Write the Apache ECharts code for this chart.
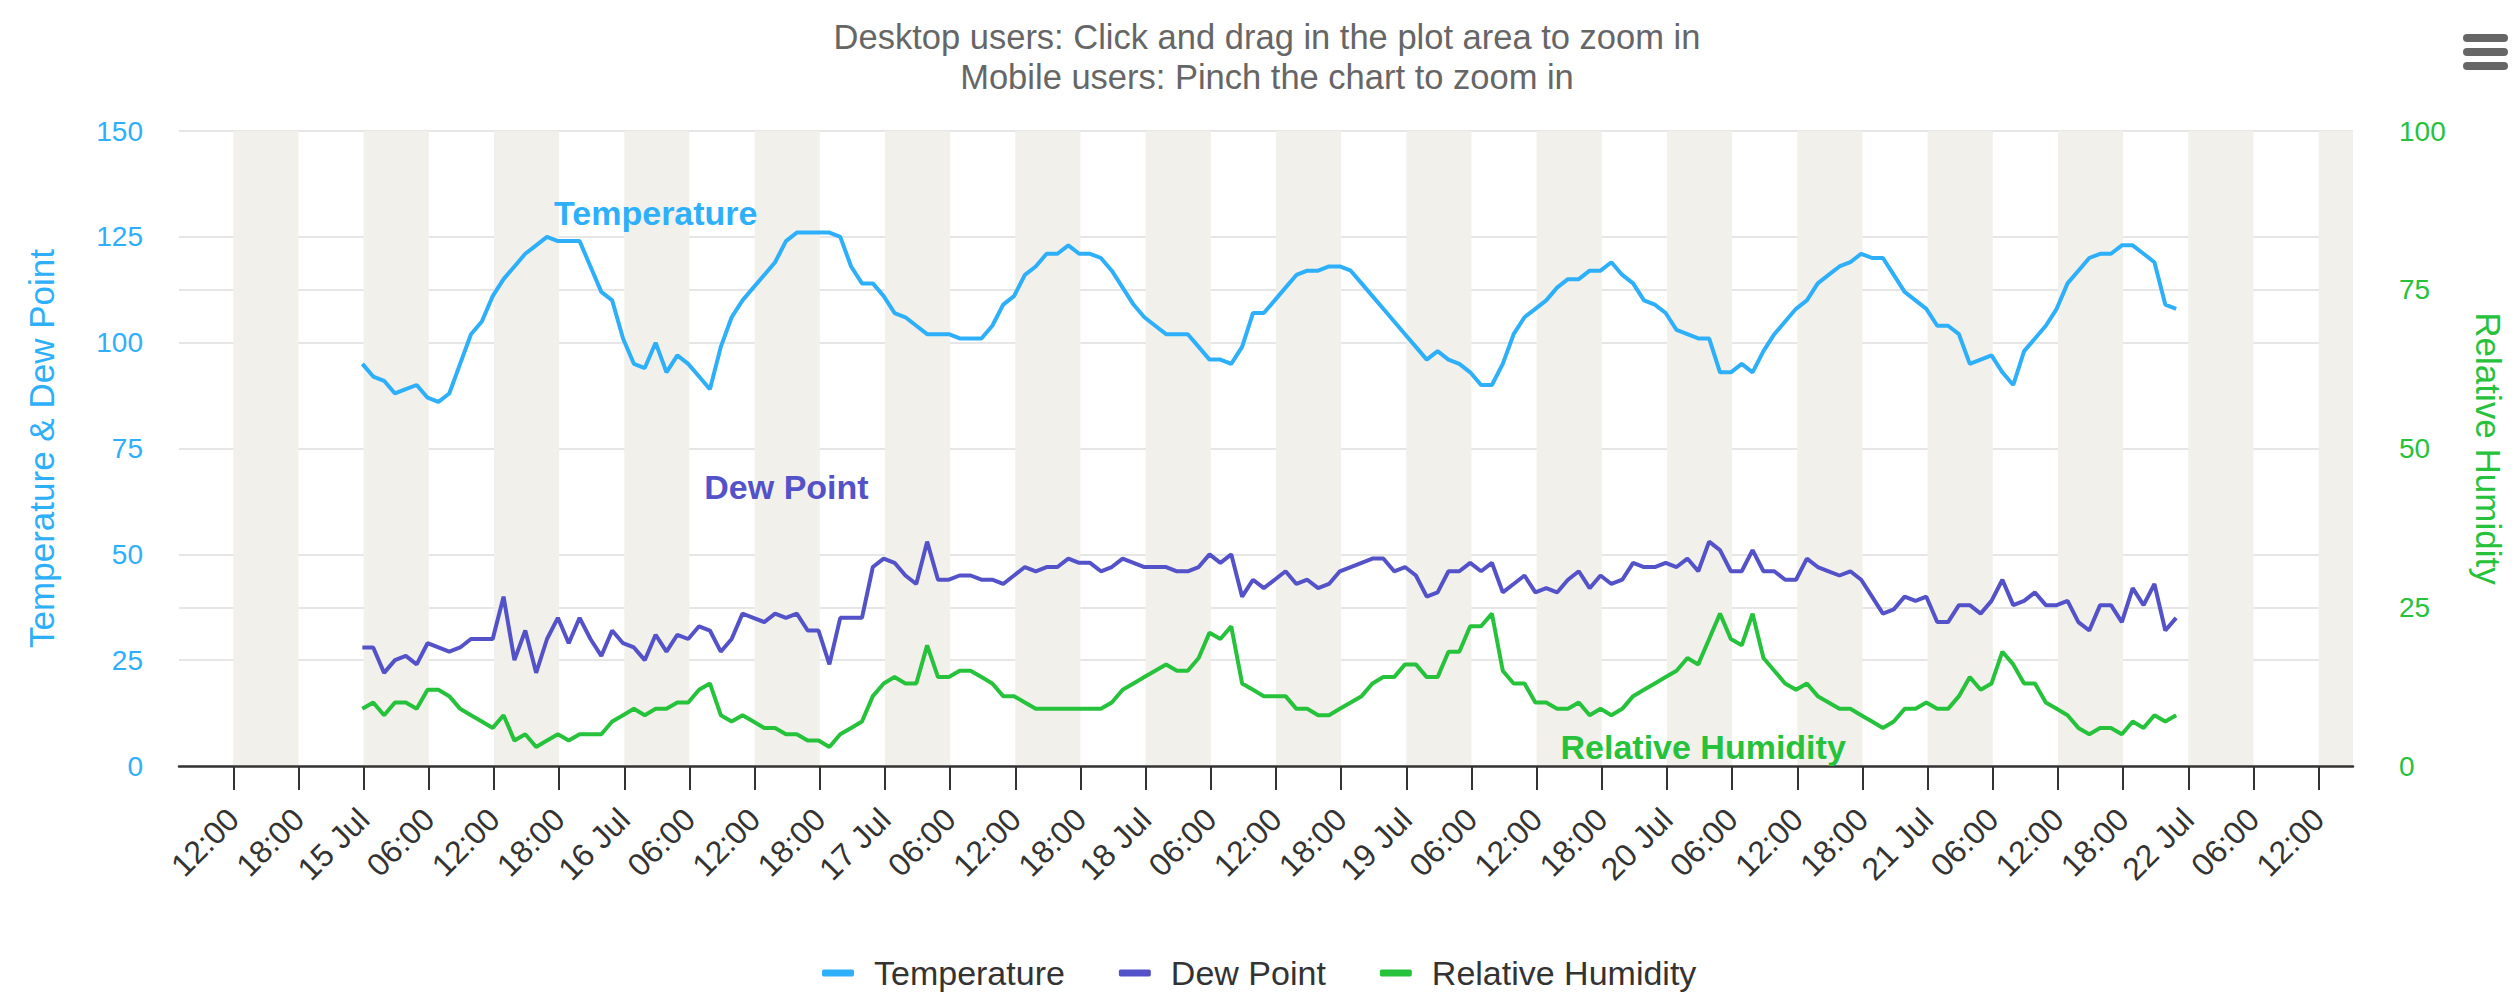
<!DOCTYPE html>
<html>
<head>
<meta charset="utf-8">
<title>Temperature, Dew Point and Relative Humidity</title>
<script src="https://cdn.jsdelivr.net/npm/echarts@6/dist/echarts.min.js"></script>
<style>
  html, body { margin: 0; padding: 0; background: #fff; }
  #chart { width: 2514px; height: 995px; }
</style>
</head>
<body>
<div id="chart"></div>
<script>
'use strict';

var HOUR = 3600 * 1000;

// hourly observations, the first one at 14 Jul 23:53
var firstObs = Date.UTC(2024, 6, 14, 23, 53);

var temperature = [
  95, 92, 91, 88, 89, 90, 87, 86, 88, 95, 102, 105, 111, 115, 118, 121, 123, 125, 124, 124, 124, 118, 112, 110,
  101, 95, 94, 100, 93, 97, 95, 92, 89, 99, 106, 110, 113, 116, 119, 124, 126, 126, 126, 126, 125, 118, 114, 114,
  111, 107, 106, 104, 102, 102, 102, 101, 101, 101, 104, 109, 111, 116, 118, 121, 121, 123, 121, 121, 120, 117, 113, 109,
  106, 104, 102, 102, 102, 99, 96, 96, 95, 99, 107, 107, 110, 113, 116, 117, 117, 118, 118, 117, 114, 111, 108, 105,
  102, 99, 96, 98, 96, 95, 93, 90, 90, 95, 102, 106, 108, 110, 113, 115, 115, 117, 117, 119, 116, 114, 110, 109,
  107, 103, 102, 101, 101, 93, 93, 95, 93, 98, 102, 105, 108, 110, 114, 116, 118, 119, 121, 120, 120, 116, 112, 110,
  108, 104, 104, 102, 95, 96, 97, 93, 90, 98, 101, 104, 108, 114, 117, 120, 121, 121, 123, 123, 121, 119, 109, 108
];

var dewPoint = [
  28, 28, 22, 25, 26, 24, 29, 28, 27, 28, 30, 30, 30, 40, 25, 32, 22, 30, 35, 29, 35, 30, 26, 32,
  29, 28, 25, 31, 27, 31, 30, 33, 32, 27, 30, 36, 35, 34, 36, 35, 36, 32, 32, 24, 35, 35, 35, 47,
  49, 48, 45, 43, 53, 44, 44, 45, 45, 44, 44, 43, 45, 47, 46, 47, 47, 49, 48, 48, 46, 47, 49, 48,
  47, 47, 47, 46, 46, 47, 50, 48, 50, 40, 44, 42, 44, 46, 43, 44, 42, 43, 46, 47, 48, 49, 49, 46,
  47, 45, 40, 41, 46, 46, 48, 46, 48, 41, 43, 45, 41, 42, 41, 44, 46, 42, 45, 43, 44, 48, 47, 47,
  48, 47, 49, 46, 53, 51, 46, 46, 51, 46, 46, 44, 44, 49, 47, 46, 45, 46, 44, 40, 36, 37, 40, 39,
  40, 34, 34, 38, 38, 36, 39, 44, 38, 39, 41, 38, 38, 39, 34, 32, 38, 38, 34, 42, 38, 43, 32, 35
];

var humidity = [
  9, 10, 8, 10, 10, 9, 12, 12, 11, 9, 8, 7, 6, 8, 4, 5, 3, 4, 5, 4, 5, 5, 5, 7,
  8, 9, 8, 9, 9, 10, 10, 12, 13, 8, 7, 8, 7, 6, 6, 5, 5, 4, 4, 3, 5, 6, 7, 11,
  13, 14, 13, 13, 19, 14, 14, 15, 15, 14, 13, 11, 11, 10, 9, 9, 9, 9, 9, 9, 9, 10,
  12, 13, 14, 15, 16, 15, 15, 17, 21, 20, 22, 13, 12, 11, 11, 11, 9, 9, 8, 8, 9, 10,
  11, 13, 14, 14, 16, 16, 14, 14, 18, 18, 22, 22, 24, 15, 13, 13, 10, 10, 9, 9, 10, 8,
  9, 8, 9, 11, 12, 13, 14, 15, 17, 16, 20, 24, 20, 19, 24, 17, 15, 13, 12, 13, 11, 10,
  9, 9, 8, 7, 6, 7, 9, 9, 10, 9, 9, 11, 14, 12, 13, 18, 16, 13, 13, 10, 9, 8, 6, 5, 6, 6, 5, 7, 6, 8, 7, 8
];

// x axis: one tick every 6 hours from 14 Jul 12:00
var firstTick = Date.UTC(2024, 6, 14, 12, 0);
var tickLabels = [
  '12:00', '18:00', '15 Jul', '06:00', '12:00', '18:00', '16 Jul', '06:00', '12:00', '18:00',
  '17 Jul', '06:00', '12:00', '18:00', '18 Jul', '06:00', '12:00', '18:00', '19 Jul', '06:00',
  '12:00', '18:00', '20 Jul', '06:00', '12:00', '18:00', '21 Jul', '06:00', '12:00', '18:00',
  '22 Jul', '06:00', '12:00'
];
var xMin = Date.UTC(2024, 6, 14, 7, 0);
var xMax = Date.UTC(2024, 6, 22, 15, 10);

var blue = '#2eaffa';
var purple = '#5352c8';
var green = '#27c23c';
var fontFamily = '"Liberation Sans", Arial, Helvetica, sans-serif';

var tickTimes = tickLabels.map(function (l, i) { return firstTick + i * 6 * HOUR; });

function toPoints(values) {
  return values.map(function (v, i) { return [firstObs + i * HOUR, v]; });
}

// shaded every other 6 hour slot
var bands = [];
for (var i = 0; i < tickTimes.length; i += 2) {
  bands.push([{ xAxis: tickTimes[i] }, { xAxis: Math.min(tickTimes[i] + 6 * HOUR, xMax) }]);
}

function seriesLabel(text, color, coord) {
  return {
    silent: true,
    symbol: 'circle',
    symbolSize: 0,
    itemStyle: { color: 'transparent' },
    label: {
      show: true,
      position: 'inside',
      formatter: text,
      color: color,
      fontSize: 34,
      fontWeight: 'bold',
      fontFamily: fontFamily
    },
    data: [{ coord: coord }]
  };
}

var chart = echarts.init(document.getElementById('chart'), null, { renderer: 'svg' });

var option = {
  animation: false,
  backgroundColor: '#ffffff',
  textStyle: { fontFamily: fontFamily },
  legend: {
    data: ['Temperature', 'Dew Point', 'Relative Humidity'],
    left: 822,
    bottom: 5,
    padding: 0,
    icon: 'roundRect',
    itemWidth: 32,
    itemHeight: 7,
    itemGap: 54,
    textStyle: { color: '#333333', fontSize: 34, padding: [0, 0, 0, 15] }
  },
  grid: { left: 179, right: 160, top: 131, bottom: 229, containLabel: false },
  xAxis: {
    type: 'value',
    min: xMin,
    max: xMax,
    z: 1,
    axisLine: { show: true, onZero: false, lineStyle: { color: '#333333', width: 2.5 } },
    axisTick: { show: true, length: 24, customValues: tickTimes, lineStyle: { color: '#333333', width: 2 } },
    axisLabel: {
      customValues: tickTimes,
      rotate: 45,
      margin: 48,
      color: '#333333',
      fontSize: 32,
      formatter: function (v) {
        var k = Math.round((v - firstTick) / (6 * HOUR));
        return tickLabels[k] || '';
      }
    },
    splitLine: { show: false }
  },
  yAxis: [
    {
      type: 'value',
      min: 0,
      max: 150,
      interval: 25,
      position: 'left',
      z: 1,
      name: 'Temperature & Dew Point',
      nameLocation: 'middle',
      nameGap: 120,
      nameTextStyle: { color: blue, fontSize: 35 },
      axisLine: { show: false },
      axisTick: { show: false },
      axisLabel: { color: blue, fontSize: 28, margin: 36 },
      splitLine: { show: true, lineStyle: { color: '#e6e6e6', width: 2 } }
    },
    {
      type: 'value',
      min: 0,
      max: 100,
      interval: 25,
      position: 'right',
      z: 1,
      name: 'Relative Humidity',
      nameLocation: 'middle',
      nameRotate: -90,
      nameGap: 118,
      nameTextStyle: { color: green, fontSize: 35 },
      axisLine: { show: false },
      axisTick: { show: false },
      axisLabel: { color: green, fontSize: 28, margin: 46 },
      splitLine: { show: true, lineStyle: { color: '#e6e6e6', width: 2 } }
    }
  ],
  series: [
    {
      name: 'bands',
      type: 'line',
      data: [],
      z: 0,
      silent: true,
      markArea: {
        silent: true,
        itemStyle: { color: '#f2f0eb' },
        data: bands
      }
    },
    {
      name: 'Temperature',
      type: 'line',
      yAxisIndex: 0,
      showSymbol: false,
      color: blue,
      lineStyle: { width: 4, color: blue },
      data: toPoints(temperature),
      markPoint: seriesLabel('Temperature', blue, [Date.UTC(2024, 6, 16, 2, 54), 130.6])
    },
    {
      name: 'Dew Point',
      type: 'line',
      yAxisIndex: 0,
      showSymbol: false,
      color: purple,
      lineStyle: { width: 4, color: purple },
      data: toPoints(dewPoint),
      markPoint: seriesLabel('Dew Point', purple, [Date.UTC(2024, 6, 16, 14, 56), 65.9])
    },
    {
      name: 'Relative Humidity',
      type: 'line',
      yAxisIndex: 1,
      showSymbol: false,
      color: green,
      lineStyle: { width: 4, color: green },
      data: toPoints(humidity),
      markPoint: seriesLabel('Relative Humidity', green, [Date.UTC(2024, 6, 20, 3, 20), 3.0])
    }
  ],
  graphic: [
    {
      // subtitle, centred over the plot area
      type: 'text',
      x: 1267,
      y: 17,
      style: {
        text: 'Desktop users: Click and drag in the plot area to zoom in\nMobile users: Pinch the chart to zoom in',
        fill: '#666666',
        fontSize: 34.5,
        fontFamily: fontFamily,
        lineHeight: 40,
        align: 'center',
        verticalAlign: 'top'
      }
    },
    {
      // export menu button
      type: 'group',
      right: 6,
      top: 34,
      children: [
        { type: 'rect', shape: { x: 0, y: 0, width: 45, height: 8, r: 4 }, style: { fill: '#666666' } },
        { type: 'rect', shape: { x: 0, y: 14, width: 45, height: 8, r: 4 }, style: { fill: '#666666' } },
        { type: 'rect', shape: { x: 0, y: 28, width: 45, height: 8, r: 4 }, style: { fill: '#666666' } }
      ]
    }
  ]
};

chart.setOption(option);
</script>
</body>
</html>
